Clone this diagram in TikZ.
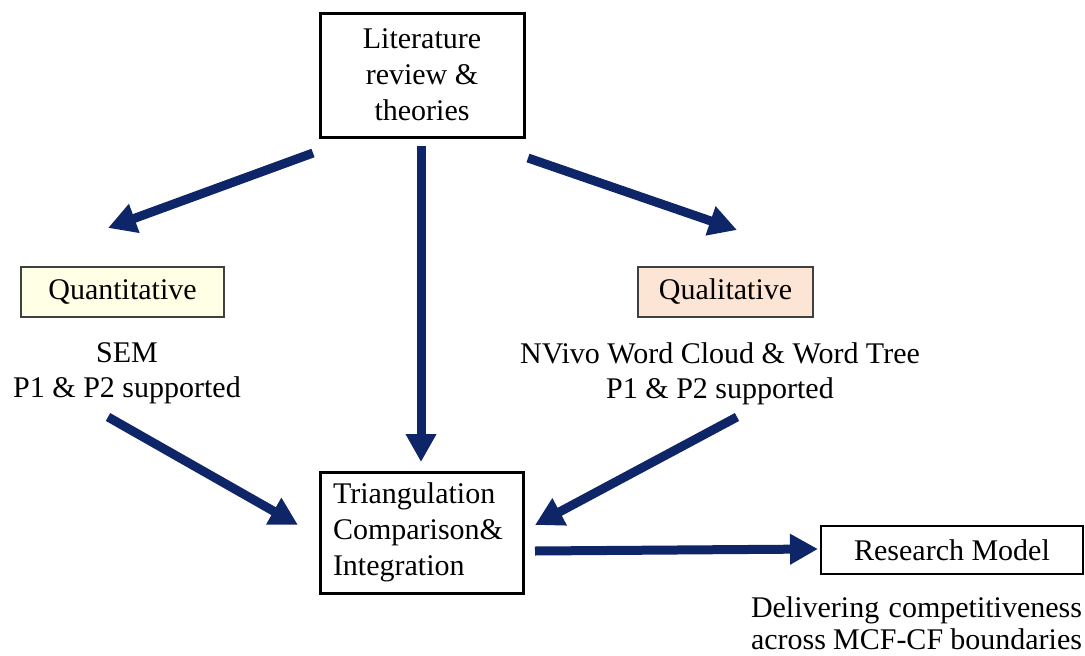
\documentclass[tikz,border=0pt]{standalone}
\usepackage{fontspec}
\setmainfont{Liberation Serif}
\usetikzlibrary{arrows.meta}
\definecolor{navy}{RGB}{14,38,104}
\definecolor{quanfill}{RGB}{255,255,230}
\definecolor{qualfill}{RGB}{252,229,213}
\begin{document}
\begin{tikzpicture}[x=1pt,y=-1pt,
  txt/.style={font=\fontsize{30}{35}\selectfont, inner sep=0pt},
  bigbox/.style={draw=black, line width=3pt, inner sep=0pt, font=\fontsize{30}{36}\selectfont},
  tagbox/.style={draw=black!75, line width=1.5pt, inner sep=0pt, font=\fontsize{30}{35}\selectfont},
  flow/.style={draw=navy, line width=9pt, -{Triangle[length=28pt,width=29pt]}}
]
\useasboundingbox (0,0) rectangle (1085,656);

\node[bigbox, minimum width=204pt, minimum height=124pt, align=center] (lit) at (422,75) {Literature\\review \&\\theories};
\node[tagbox, fill=quanfill, minimum width=203pt, minimum height=50pt] (quan) at (122.5,292) {Quantitative};
\node[tagbox, fill=qualfill, minimum width=175pt, minimum height=50pt] (qual) at (725.5,292) {Qualitative};
\node[txt, align=center] (sem) at (127,373) {SEM\\P1 \& P2 supported};
\node[txt, align=center] (nv) at (720,374) {NVivo Word Cloud \& Word Tree\\P1 \& P2 supported};
\node[bigbox, minimum height=121pt, text width=177pt, inner xsep=13pt, align=left] (tri) at (421.5,532.5) {Triangulation\\Comparison\&\\Integration};
\node[draw=black, line width=2.5pt, inner sep=0pt, minimum width=262pt, minimum height=48pt, font=\fontsize{30}{35}\selectfont] (rm) at (952,550) {Research Model};
\node[txt, align=left, font=\fontsize{30}{32}\selectfont] (del) at (916.5,623) {\makebox[331pt][s]{Delivering competitiveness}\\\makebox[331pt][s]{across MCF-CF boundaries}};

\coordinate (a1s) at (313,153); \coordinate (a1e) at (108,228);
\coordinate (a2s) at (421,146); \coordinate (a2e) at (421,462);
\coordinate (a3s) at (528,158); \coordinate (a3e) at (737,230);
\coordinate (a4s) at (108,417); \coordinate (a4e) at (298,525);
\coordinate (a5s) at (737,417); \coordinate (a5e) at (535,525);
\coordinate (a6s) at (535,551); \coordinate (a6e) at (818,549);

\draw[flow] (a1s) -- (a1e);
\draw[flow] (a2s) -- (a2e);
\draw[flow] (a3s) -- (a3e);
\draw[flow] (a4s) -- (a4e);
\draw[flow] (a5s) -- (a5e);
\draw[flow] (a6s) -- (a6e);
\end{tikzpicture}
\end{document}
